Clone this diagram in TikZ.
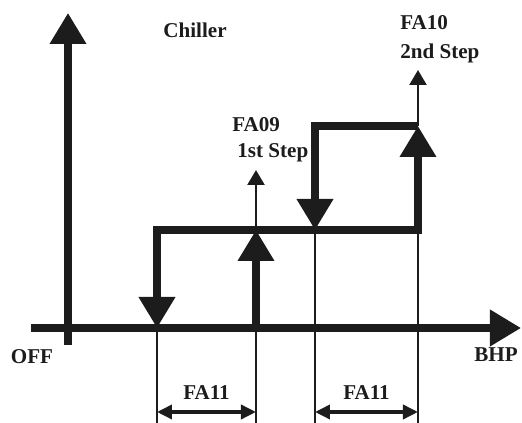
\documentclass[tikz,border=0pt]{standalone}
\usepackage{fontspec}
\setmainfont{Liberation Serif}
\usetikzlibrary{arrows.meta}
\definecolor{cink}{HTML}{1C1C1C}

\begin{document}
\begin{tikzpicture}[
    bigtip/.tip={Triangle[length=6.2mm, width=7mm]},
    big/.style={line width=4pt, draw=cink, -bigtip},
    bar/.style={line width=4pt, draw=cink},
    thin/.style={line width=1.4pt, draw=cink},
    thintip/.style={thin, -{Triangle[length=3mm, width=3.4mm]}},
    dim/.style={line width=2pt, draw=cink,
                {Triangle[length=3mm, width=2.8mm]}-{Triangle[length=3mm, width=2.8mm]}},
    lbl/.style={font=\bfseries\fontsize{12}{14}\selectfont, text=cink, inner sep=0pt},
  ]
  \path[use as bounding box] (-1.36,-1.9) rectangle (9.08,6.56);
  % == axes
  \coordinate (ybot) at (0,-0.34);
  \coordinate (ytop) at (0,6.3);
  \coordinate (xl) at (-0.74,0);
  \coordinate (xr) at (9.06,0);
  % the four switching points: on the axis, on the low and the high level, at the foot
  \foreach \n/\x in {a/1.78, b/3.76, c/4.94, d/7.0} {
    \coordinate (\n0) at (\x,0);
    \coordinate (\n1) at (\x,1.96);
    \coordinate (\n2) at (\x,4.04);
    \coordinate (\n-foot) at (\x,-1.9);
    \coordinate (\n-dim) at (\x,-1.68);
  }
  \coordinate (b-top) at (3.76,3.16);
  \coordinate (d-top) at (7.0,5.16);
  % thin guide lines
  \draw[thin] (a0) -- (a-foot);
  \draw[thintip] (b-foot) -- (b-top);
  \draw[thin] (c1) -- (c-foot);
  \draw[thin] (d1) -- (d-foot);
  \draw[thintip] (d2) -- (d-top);
  % axes
  \draw[big] (ybot) -- (ytop);
  \draw[big] (xl) -- (xr);
  % == the two steps of the loop
  \draw[bar, bigtip-bigtip] (a0) -- (a1) -- (d1) -- (d2);
  \draw[big] (b0) -- (b1);
  \draw[bar, bigtip-] (c1) -- (c2) -- (d2);
  % hysteresis widths
  \draw[dim] (a-dim) -- (b-dim);
  \draw[dim] (c-dim) -- (d-dim);
  % == labels
  \node[lbl] (chiller) at (2.54,5.96) {Chiller};
  \node[lbl, anchor=west] (fa09) at (3.28,4.06) {FA09};
  \node[lbl, anchor=west] (step1) at (3.38,3.5) {1st Step};
  \node[lbl, anchor=west] (fa10) at (6.64,6.1) {FA10};
  \node[lbl, anchor=west] (step2) at (6.64,5.5) {2nd Step};
  \node[lbl] (off) at (-0.72,-0.58) {OFF};
  \node[lbl] (bhp) at (8.56,-0.54) {BHP};
  \node[lbl] (fa11a) at (2.77,-1.3) {FA11};
  \node[lbl] (fa11b) at (5.97,-1.3) {FA11};
\end{tikzpicture}
\end{document}
